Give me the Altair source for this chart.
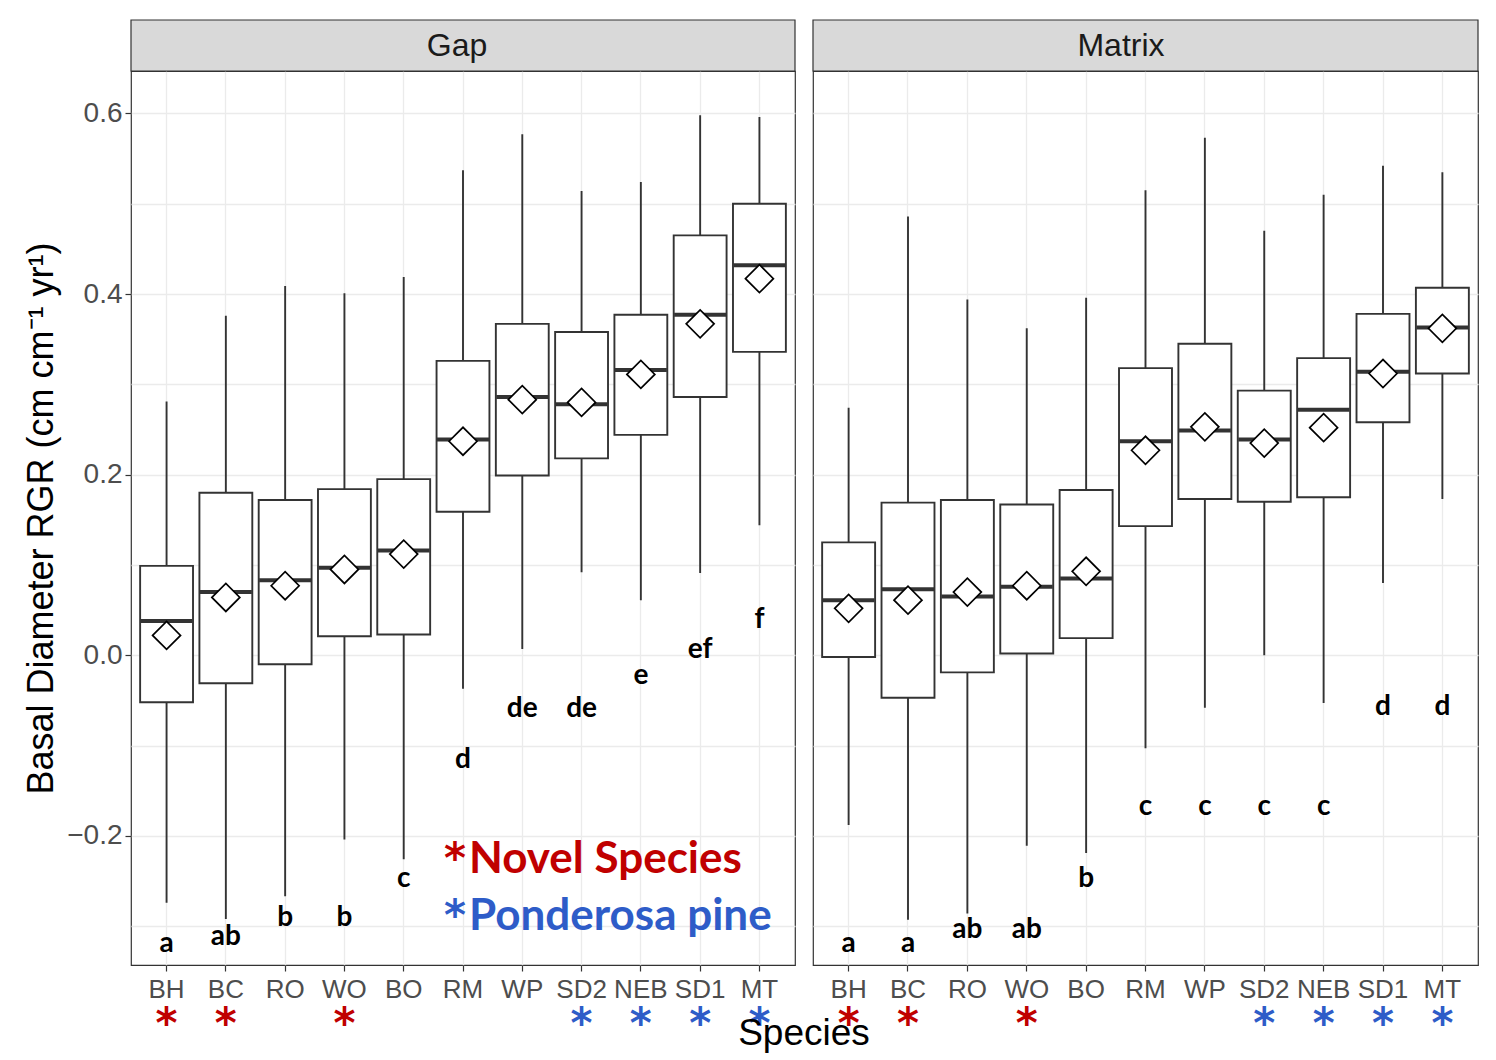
import altair as alt
import pandas as pd

species = ["BH", "BC", "RO", "WO", "BO", "RM", "WP", "SD2", "NEB", "SD1", "MT"]
novel_species = ["BH", "BC", "WO"]
ponderosa_species = ["SD2", "NEB", "SD1", "MT"]

# Gap panel
gap_low = [-0.274, -0.292, -0.267, -0.204, -0.226, -0.037, 0.007, 0.092, 0.061, 0.091, 0.144]
gap_q1 = [-0.052, -0.031, -0.010, 0.021, 0.023, 0.159, 0.199, 0.218, 0.244, 0.286, 0.336]
gap_median = [0.038, 0.070, 0.083, 0.097, 0.116, 0.239, 0.286, 0.278, 0.316, 0.377, 0.432]
gap_mean = [0.022, 0.064, 0.077, 0.095, 0.112, 0.237, 0.283, 0.280, 0.311, 0.367, 0.417]
gap_q3 = [0.099, 0.180, 0.172, 0.184, 0.195, 0.326, 0.367, 0.358, 0.377, 0.465, 0.500]
gap_high = [0.281, 0.376, 0.409, 0.401, 0.419, 0.537, 0.577, 0.514, 0.524, 0.598, 0.596]
gap_letters = ["a", "ab", "b", "b", "c", "d", "de", "de", "e", "ef", "f"]
gap_letter_y = [-0.329, -0.321, -0.300, -0.300, -0.257, -0.125, -0.068, -0.068, -0.032, -0.003, 0.030]

# Matrix panel
mat_low = [-0.188, -0.293, -0.286, -0.211, -0.219, -0.103, -0.058, 0.000, -0.053, 0.080, 0.173]
mat_q1 = [-0.002, -0.047, -0.019, 0.002, 0.019, 0.143, 0.173, 0.170, 0.175, 0.258, 0.312]
mat_median = [0.061, 0.073, 0.065, 0.076, 0.085, 0.237, 0.249, 0.239, 0.272, 0.314, 0.363]
mat_mean = [0.052, 0.061, 0.070, 0.077, 0.093, 0.227, 0.253, 0.235, 0.252, 0.312, 0.362]
mat_q3 = [0.125, 0.169, 0.172, 0.167, 0.183, 0.318, 0.345, 0.293, 0.329, 0.378, 0.407]
mat_high = [0.274, 0.486, 0.394, 0.362, 0.396, 0.515, 0.573, 0.470, 0.510, 0.542, 0.535]
mat_letters = ["a", "a", "ab", "ab", "b", "c", "c", "c", "c", "d", "d"]
mat_letter_y = [-0.329, -0.329, -0.313, -0.313, -0.257, -0.177, -0.177, -0.177, -0.177, -0.066, -0.066]

legend_labels = ["Novel Species", "Ponderosa pine"]
legend_kinds = ["Novel", "Ponderosa"]

grid_values = [-0.3, -0.2, -0.1, 0.0, 0.1, 0.2, 0.3, 0.4, 0.5, 0.6]
y_domain = [-0.343, 0.647]

W, H = 664, 894
RED = "#C00000"
BLUE = "#2E5CC8"
DARK = "#333333"
KIND_SCALE = alt.Scale(domain=["Novel", "Ponderosa"], range=[RED, BLUE])


def build_df(lo, q1, med, mean, q3, hi, letters, ly):
    groups = []
    for s in species:
        if s in novel_species:
            groups.append("Novel")
        elif s in ponderosa_species:
            groups.append("Ponderosa")
        else:
            groups.append("")
    return pd.DataFrame({
        "species": species, "lo": lo, "q1": q1, "med": med, "mean": mean,
        "q3": q3, "hi": hi, "letter": letters, "ly": ly, "group": groups,
    })


MAJOR = "round(datum.value*10) % 2 == 0"


def panel(df, name, first, width, strip_x):
    xscale = alt.Scale(type="band", domain=species, paddingInner=0.108, paddingOuter=0.154)
    xaxis = alt.Axis(title=None, labelFontSize=26, labelFont="Liberation Sans",
                     labelColor="#4D4D4D", labelAngle=0, labelPadding=5,
                     tickColor=DARK, tickSize=6, tickWidth=1.2, domain=False,
                     grid=True, gridColor="#EBEBEB", gridWidth=1.3, bandPosition=0.5)
    x_enc = alt.X("species:N", scale=xscale, axis=xaxis)
    yscale = alt.Scale(domain=y_domain, nice=False, zero=False)
    if first:
        yaxis = alt.Axis(title="Basal Diameter RGR (cm cm\u207b\u00b9  yr\u00b9)",
                         titleFont="Liberation Sans", titleFontSize=36,
                         titleFontWeight="normal", titleColor="black", titlePadding=6,
                         values=grid_values,
                         labelExpr=MAJOR + " ? format(datum.value, '.1f') : ''",
                         labelFont="Liberation Sans", labelFontSize=28, labelColor="#4D4D4D",
                         labelPadding=3,
                         tickColor=DARK, tickSize=6, tickWidth=1.2,
                         tickOpacity={"condition": {"test": MAJOR, "value": 1}, "value": 0},
                         domain=False, grid=True, gridColor="#EBEBEB", gridWidth=1.3)
    else:
        yaxis = alt.Axis(title=None, labels=False, ticks=False, domain=False,
                         values=grid_values, grid=True, gridColor="#EBEBEB", gridWidth=1.3)
    y_lo = alt.Y("lo:Q", scale=yscale, axis=yaxis)

    base = alt.Chart(df)
    whisk = base.mark_rule(color=DARK, strokeWidth=1.9).encode(x=x_enc, y=y_lo, y2="hi:Q")
    box = base.mark_bar(fill="white", stroke=DARK, strokeWidth=1.9).encode(
        x=x_enc, y=alt.Y("q1:Q", scale=yscale, axis=yaxis), y2="q3:Q")
    med = base.mark_tick(color=DARK, thickness=4, size=52, opacity=1).encode(
        x=x_enc, y=alt.Y("med:Q", scale=yscale, axis=yaxis))
    mean = base.mark_point(shape="diamond", filled=True, fill="white", stroke="black",
                           strokeWidth=1.7, size=780, opacity=1).encode(
        x=x_enc, y=alt.Y("mean:Q", scale=yscale, axis=yaxis))
    letters = base.mark_text(font="Lato", fontWeight="bold", fontSize=28, color="black",
                             baseline="alphabetic").encode(
        x=x_enc, y=alt.Y("ly:Q", scale=yscale, axis=yaxis), text="letter:N")
    stars = base.transform_filter("datum.group != ''").mark_text(
        text="*", font="DejaVu Sans", fontWeight="bold", fontSize=42, baseline="middle").encode(
        x=x_enc, y=alt.value(H + 60),
        color=alt.Color("group:N", scale=KIND_SCALE, legend=None))
    strip_df = pd.DataFrame({"panel": [name]})
    strip = alt.Chart(strip_df).mark_rect(fill="#D9D9D9", stroke=DARK, strokeWidth=1.2).encode(
        x=alt.value(0), x2=alt.value(width), y=alt.value(-51), y2=alt.value(0))
    strip_text = alt.Chart(strip_df).mark_text(font="Liberation Sans", fontSize=32,
                                               color="#1A1A1A", baseline="middle").encode(
        x=alt.value(strip_x), y=alt.value(-25), text="panel:N")

    layers = [whisk, box, med, mean, letters, stars, strip, strip_text]
    if first:
        ann_df = pd.DataFrame({"label": legend_labels, "kind": legend_kinds,
                               "py": [802, 859]})
        ann_star = alt.Chart(ann_df).mark_text(text="*", font="DejaVu Sans", fontWeight="bold",
                                               fontSize=42, align="left", baseline="alphabetic").encode(
            x=alt.value(313), y=alt.Y("py:Q", scale=None),
            color=alt.Color("kind:N", scale=KIND_SCALE, legend=None))
        ann = alt.Chart(ann_df).mark_text(font="Lato", fontWeight="bold", fontSize=44,
                                          align="left", baseline="alphabetic").encode(
            x=alt.value(338), y=alt.Y("py:Q", scale=None),
            text="label:N",
            color=alt.Color("kind:N", scale=KIND_SCALE, legend=None))
        layers += [ann_star, ann]
    else:
        sp_df = pd.DataFrame({"t": ["Species"]})
        sp = alt.Chart(sp_df).mark_text(font="Liberation Sans", fontSize=37, color="black",
                                        align="center", baseline="alphabetic").encode(
            x=alt.value(-9), y=alt.value(H + 80), text="t:N")
        layers.append(sp)
    return alt.layer(*layers).properties(width=width, height=H)


gap_df = build_df(gap_low, gap_q1, gap_median, gap_mean, gap_q3, gap_high, gap_letters, gap_letter_y)
mat_df = build_df(mat_low, mat_q1, mat_median, mat_mean, mat_q3, mat_high, mat_letters, mat_letter_y)

chart = alt.hconcat(
    panel(gap_df, "Gap", True, 664, 326),
    panel(mat_df, "Matrix", False, 665, 308),
    spacing=18,
    bounds="flush",
).properties(
    padding={"left": 15, "top": 10, "right": 5, "bottom": 0}
).configure_view(
    stroke=DARK, strokeWidth=1.2
).resolve_scale(color="independent")

chart.save("out.html", embed_options={"renderer": "svg", "actions": False})
